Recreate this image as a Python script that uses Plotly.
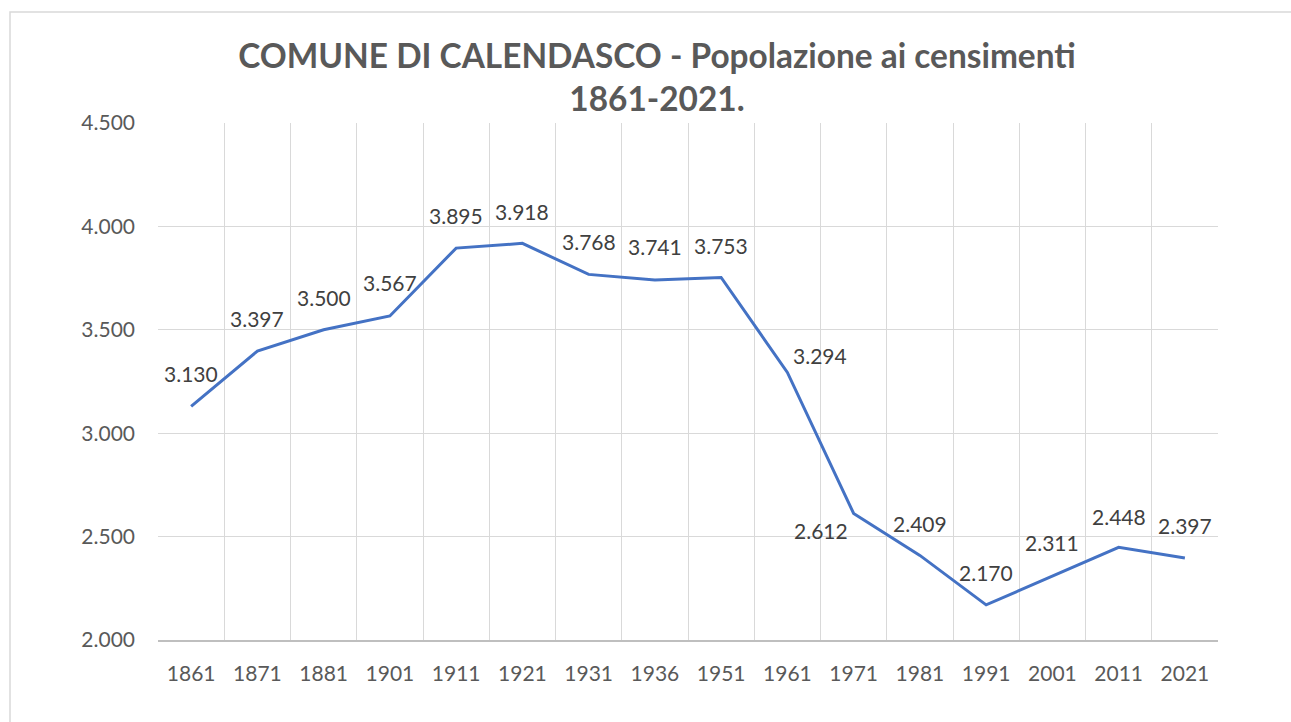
import plotly.graph_objects as go

years = ["1861", "1871", "1881", "1901", "1911", "1921", "1931", "1936",
         "1951", "1961", "1971", "1981", "1991", "2001", "2011", "2021"]
population = [3130, 3397, 3500, 3567, 3895, 3918, 3768, 3741,
              3753, 3294, 2612, 2409, 2170, 2311, 2448, 2397]
# label offsets in pixels (dx, dy up)
label_dx = [0, 0, 0, 0, 0, 0, 0, 0, 0, 33, -33, 0, 0, 0, 0, 0]
label_dy = [33, 33, 32, 33, 33, 32, 33, 33, 32, 17, -17, 32, 32, 33, 31, 32]

title_text = "COMUNE DI CALENDASCO - Popolazione ai censimenti<br>1861-2021."

W, H = 1291, 722
L, R, T, B = 158, 1218, 123, 640

idx = list(range(len(years)))
bounds = [i - 0.5 for i in range(len(years) + 1)]

fig = go.Figure()
fig.add_trace(go.Scatter(
    x=idx, y=population, mode="lines",
    line=dict(color="#4472C4", width=3),
    text=years, hovertemplate="%{text}: %{y}<extra></extra>", showlegend=False,
))

annotations = []
for i, v, dx, dy in zip(idx, population, label_dx, label_dy):
    annotations.append(dict(
        x=i, y=v, xref="x", yref="y", showarrow=False,
        text=f"{v:,}".replace(",", "."),
        xshift=dx, yshift=dy,
        font=dict(family="Lato", size=21, color="#404040"),
    ))

fig.update_layout(
    width=W, height=H,
    margin=dict(l=L, r=W - R, t=T, b=H - B, pad=0),
    paper_bgcolor="white", plot_bgcolor="white",
    separators=",.",
    title=dict(
        text=title_text,
        x=657 / W, xanchor="center", xref="container",
        y=1 - 68 / H, yanchor="top", yref="container",
        font=dict(family="Lato", size=33.4, color="#595959", weight="bold"),
    ),
    annotations=annotations,
    shapes=[dict(
        type="rect", xref="paper", yref="paper",
        x0=(10 - L) / (R - L), x1=2.0,
        y0=-2.0, y1=1 + (T - 12) / (B - T),
        line=dict(color="#D9D9D9", width=1.5), fillcolor="rgba(0,0,0,0)",
        layer="below",
    )],
    xaxis=dict(
        range=[-0.5, len(years) - 0.5],
        tickmode="array", tickvals=idx, ticktext=years,
        showgrid=False, ticks="", zeroline=False,
        minor=dict(tickmode="array", tickvals=bounds, showgrid=True,
                   gridcolor="#D9D9D9", gridwidth=1.3, ticks=""),
        showline=True, linecolor="#BFBFBF", linewidth=1.5,
        tickfont=dict(family="Lato", size=21, color="#595959"),
        ticklabelstandoff=14, fixedrange=True,
    ),
    yaxis=dict(
        range=[2000, 4500], dtick=500, tickformat=",d",
        showgrid=True, gridcolor="#D9D9D9", gridwidth=1.3,
        zeroline=False, ticks="", showline=False,
        tickfont=dict(family="Lato", size=21, color="#595959"),
        ticklabelstandoff=22, fixedrange=True,
    ),
)

fig.write_html("out.html", config={"displayModeBar": False},
               post_script="document.body.style.margin='0';document.body.style.overflow='hidden';")
